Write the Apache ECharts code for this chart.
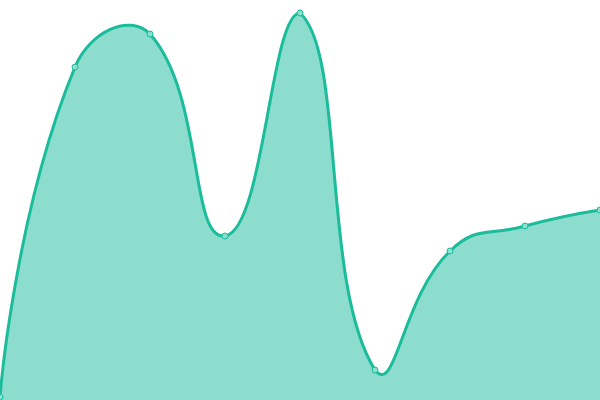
<!DOCTYPE html>
<html><head><meta charset="utf-8">
<script src="https://cdn.jsdelivr.net/npm/echarts@6/dist/echarts.min.js"></script>
<style>html,body{margin:0;padding:0;}#c{width:600px;height:400px;}</style>
</head><body><div id="c"></div>
<script>
var categories = ['1','2','3','4','5','6','7','8','9'];
var values = [3, 333, 366, 164, 387, 30, 149, 174, 190];
var SMOOTH = 0.5;
var LINE_COLOR = '#1abc9c';
var AREA_COLOR = 'rgba(26,188,156,0.5)';

function clampPt(p, mn, mx) {
  return [Math.min(Math.max(p[0], mn[0]), mx[0]), Math.min(Math.max(p[1], mn[1]), mx[1])];
}
function smoothPath(pts, smooth) {
  var mn = [Infinity, Infinity], mx = [-Infinity, -Infinity];
  pts.forEach(function (p) {
    mn[0] = Math.min(mn[0], p[0]); mn[1] = Math.min(mn[1], p[1]);
    mx[0] = Math.max(mx[0], p[0]); mx[1] = Math.max(mx[1], p[1]);
  });
  var d = 'M' + pts[0][0] + ' ' + pts[0][1];
  var cp1 = pts[0].slice();
  for (var i = 1; i < pts.length; i++) {
    var p = pts[i], prev = pts[i - 1], next = pts[i + 1];
    var cp0, vx = 0, vy = 0, r = 0.5;
    if (!next) {
      cp0 = p.slice();
    } else {
      vx = next[0] - prev[0]; vy = next[1] - prev[1];
      var l0 = Math.hypot(p[0] - prev[0], p[1] - prev[1]);
      var l1 = Math.hypot(p[0] - next[0], p[1] - next[1]);
      r = l1 / (l0 + l1);
      cp0 = clampPt([p[0] - vx * smooth * (1 - r), p[1] - vy * smooth * (1 - r)], mn, mx);
    }
    d += ' C' + cp1[0] + ' ' + cp1[1] + ' ' + cp0[0] + ' ' + cp0[1] + ' ' + p[0] + ' ' + p[1];
    if (next) {
      cp1 = clampPt([p[0] + vx * smooth * r, p[1] + vy * smooth * r], mn, mx);
    }
  }
  return d;
}

var chart = echarts.init(document.getElementById('c'));
chart.setOption({
  animation: false,
  grid: {left: 0, right: 0, top: 0, bottom: 0},
  xAxis: {type: 'category', data: categories, boundaryGap: false, show: false},
  yAxis: {type: 'value', min: 0, max: 400, show: false},
  series: [{
    type: 'custom',
    data: [0],
    silent: true,
    renderItem: function (params, api) {
      var pts = values.map(function (v, i) { return api.coord([i, v]); });
      var linePath = smoothPath(pts, SMOOTH);
      var base0 = api.coord([0, 0]);
      var base1 = api.coord([values.length - 1, 0]);
      var areaPath = linePath + ' L' + base1[0] + ' ' + base1[1] + ' L' + base0[0] + ' ' + base0[1] + ' Z';
      return {
        type: 'group',
        children: [
          {type: 'path', shape: {pathData: areaPath}, style: {fill: AREA_COLOR, stroke: null}},
          {type: 'path', shape: {pathData: linePath}, style: {fill: null, stroke: LINE_COLOR, lineWidth: 3}}
        ]
      };
    }
  }, {
    type: 'line',
    data: values,
    z: 5,
    symbol: 'circle',
    symbolSize: 6,
    lineStyle: {width: 0, opacity: 0},
    itemStyle: {color: '#8ae0cf', borderColor: LINE_COLOR, borderWidth: 1}
  }]
});
</script></body></html>
